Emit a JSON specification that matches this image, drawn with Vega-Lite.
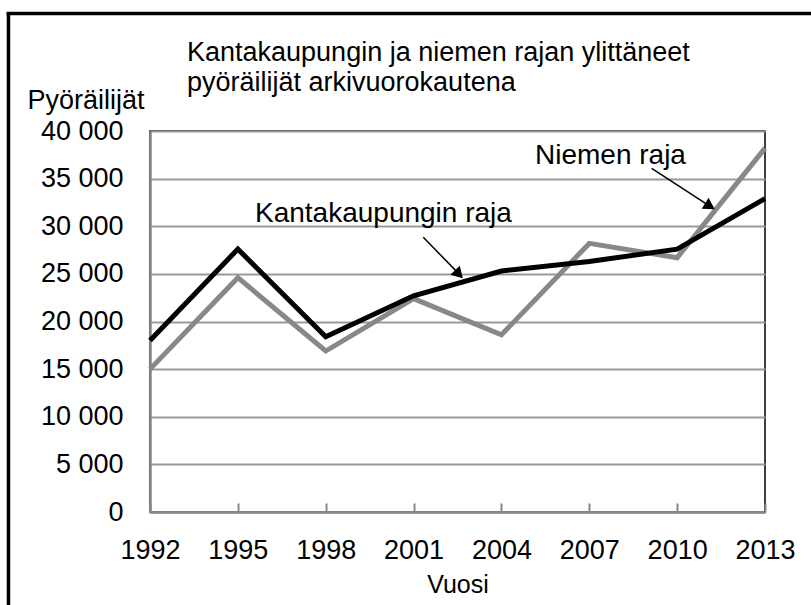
{
  "$schema": "https://vega.github.io/schema/vega-lite/v6.json",
  "width": 615,
  "height": 381,
  "autosize": {"type": "none"},
  "padding": {"left": 150, "top": 131, "right": 46, "bottom": 93},
  "background": "white",
  "config": {
    "font": "Liberation Sans",
    "view": {"stroke": "black", "strokeWidth": 1.5},
    "axis": {"labelColor": "black", "titleColor": "black", "titleFontWeight": "normal", "labelFont": "Liberation Sans", "titleFont": "Liberation Sans"}
  },
  "title": {
    "text": ["Kantakaupungin ja niemen rajan ylittäneet", "pyöräilijät arkivuorokautena"],
    "anchor": "start",
    "frame": "group",
    "fontSize": 27,
    "fontWeight": "normal",
    "lineHeight": 30,
    "baseline": "top",
    "dx": 37,
    "dy": 95,
    "offset": 10,
    "color": "black",
    "font": "Liberation Sans"
  },
  "datasets": {
    "series": [
      {"vuosi": 1992, "sarja": "Niemen raja", "pyorailijat": 15000},
      {"vuosi": 1995, "sarja": "Niemen raja", "pyorailijat": 24600},
      {"vuosi": 1998, "sarja": "Niemen raja", "pyorailijat": 16900},
      {"vuosi": 2001, "sarja": "Niemen raja", "pyorailijat": 22400},
      {"vuosi": 2004, "sarja": "Niemen raja", "pyorailijat": 18600},
      {"vuosi": 2007, "sarja": "Niemen raja", "pyorailijat": 28200},
      {"vuosi": 2010, "sarja": "Niemen raja", "pyorailijat": 26700},
      {"vuosi": 2013, "sarja": "Niemen raja", "pyorailijat": 38200},
      {"vuosi": 1992, "sarja": "Kantakaupungin raja", "pyorailijat": 18000},
      {"vuosi": 1995, "sarja": "Kantakaupungin raja", "pyorailijat": 27600},
      {"vuosi": 1998, "sarja": "Kantakaupungin raja", "pyorailijat": 18400},
      {"vuosi": 2001, "sarja": "Kantakaupungin raja", "pyorailijat": 22700},
      {"vuosi": 2004, "sarja": "Kantakaupungin raja", "pyorailijat": 25300},
      {"vuosi": 2007, "sarja": "Kantakaupungin raja", "pyorailijat": 26300},
      {"vuosi": 2010, "sarja": "Kantakaupungin raja", "pyorailijat": 27600},
      {"vuosi": 2013, "sarja": "Kantakaupungin raja", "pyorailijat": 32900}
    ],
    "labels": [
      {"vuosi": 1995.585, "pyorailijat": 30477, "teksti": "Kantakaupungin raja"},
      {"vuosi": 2005.146, "pyorailijat": 36504, "teksti": "Niemen raja"}
    ],
    "one": [{}]
  },
  "layer": [
    {
      "data": {"name": "series"},
      "mark": {"type": "line", "strokeWidth": 5, "strokeJoin": "miter"},
      "encoding": {
        "x": {
          "field": "vuosi", "type": "quantitative",
          "scale": {"domain": [1992, 2013], "nice": false, "zero": false},
          "axis": {
            "title": "Vuosi",
            "values": [1992, 1995, 1998, 2001, 2004, 2007, 2010, 2013],
            "format": "d",
            "grid": false,
            "labelFontSize": 27,
            "labelPadding": 34,
            "tickSize": -9,
            "tickColor": "#888888",
            "tickWidth": 2,
            "domainColor": "#888888",
            "domainWidth": 2.5,
            "labelFlush": false,
            "labelOverlap": false,
            "titleFontSize": 25,
            "titleBaseline": "alphabetic",
            "titleY": 80
          }
        },
        "y": {
          "field": "pyorailijat", "type": "quantitative",
          "scale": {"domain": [0, 40000], "nice": false},
          "axis": {
            "title": "Pyöräilijät",
            "values": [0, 5000, 10000, 15000, 20000, 25000, 30000, 35000, 40000],
            "labelExpr": "replace(format(datum.value, ','), ',', ' ')",
            "labelFontSize": 27,
            "labelPadding": 27,
            "ticks": false,
            "grid": true,
            "gridColor": "#999999",
            "gridWidth": 2,
            "domainColor": "#888888",
            "domainWidth": 2.5,
            "labelOverlap": false,
            "titleFontSize": 27,
            "titleAngle": 0,
            "titleAlign": "left",
            "titleBaseline": "alphabetic",
            "titleX": -123,
            "titleY": -23
          }
        },
        "color": {
          "field": "sarja", "type": "nominal",
          "scale": {"domain": ["Niemen raja", "Kantakaupungin raja"], "range": ["#888888", "#000000"]},
          "legend": null
        },
        "order": {"field": "sarja", "sort": "descending"}
      }
    },
    {
      "data": {"name": "labels"},
      "mark": {"type": "text", "align": "left", "baseline": "alphabetic", "fontSize": 28, "color": "black", "font": "Liberation Sans"},
      "encoding": {
        "x": {"field": "vuosi", "type": "quantitative"},
        "y": {"field": "pyorailijat", "type": "quantitative"},
        "text": {"field": "teksti"}
      }
    },
    {
      "data": {"name": "one"},
      "mark": {"type": "rule", "color": "black", "strokeWidth": 1.5},
      "encoding": {
        "x": {"datum": 2001.332}, "y": {"datum": 28840},
        "x2": {"datum": 2002.55}, "y2": {"datum": 25000}
      }
    },
    {
      "data": {"name": "one"},
      "mark": {"type": "rule", "color": "black", "strokeWidth": 1.5},
      "encoding": {
        "x": {"datum": 2009.131}, "y": {"datum": 36084},
        "x2": {"datum": 2011.1}, "y2": {"datum": 32150}
      }
    },
    {
      "data": {"name": "one"},
      "mark": {"type": "point", "shape": "triangle-up", "filled": true, "color": "black", "size": 170, "angle": 136, "opacity": 1},
      "encoding": {"x": {"datum": 2002.55}, "y": {"datum": 24960}}
    },
    {
      "data": {"name": "one"},
      "mark": {"type": "point", "shape": "triangle-up", "filled": true, "color": "black", "size": 170, "angle": 122, "opacity": 1},
      "encoding": {"x": {"datum": 2011.12}, "y": {"datum": 32110}}
    },
    {
      "data": {"name": "one"},
      "mark": {"type": "rule", "color": "black", "strokeWidth": 3.5},
      "encoding": {
        "x": {"datum": 1987.168}, "y": {"datum": 52336},
        "y2": {"datum": -12000}
      }
    },
    {
      "data": {"name": "one"},
      "mark": {"type": "rule", "color": "black", "strokeWidth": 3.5},
      "encoding": {
        "x": {"datum": 1987.1}, "x2": {"datum": 2015},
        "y": {"datum": 52336}
      }
    }
  ]
}
